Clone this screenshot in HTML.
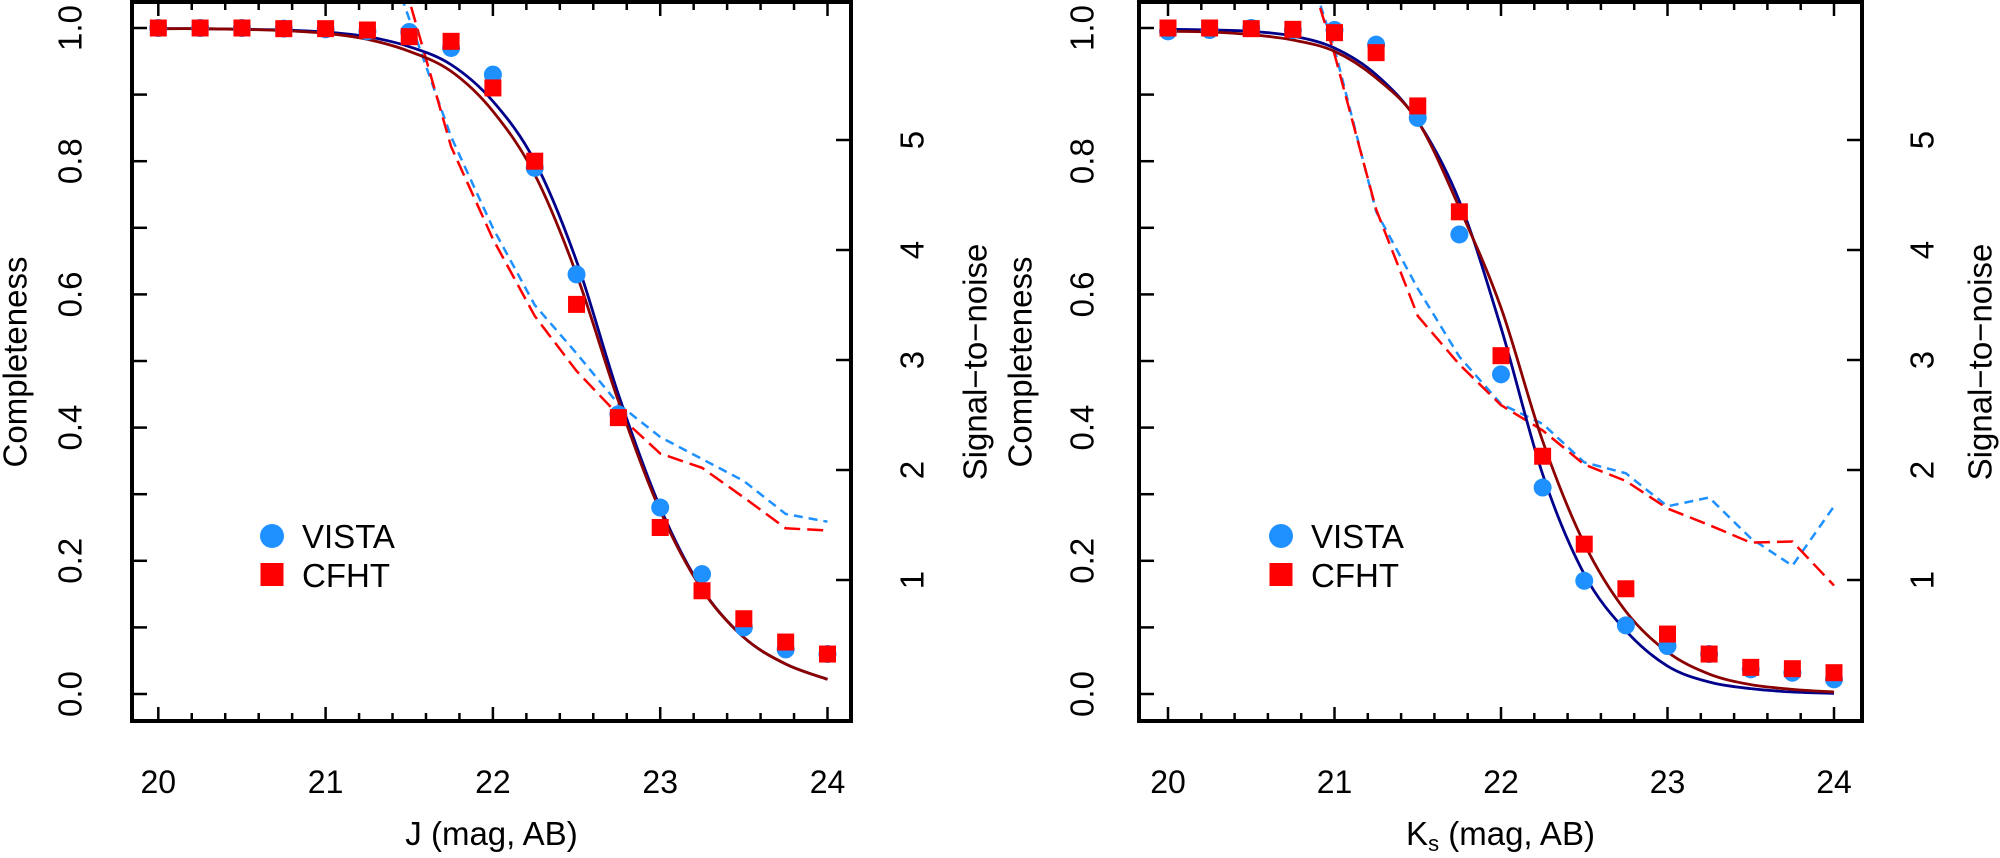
<!DOCTYPE html>
<html><head><meta charset="utf-8"><style>
body{margin:0;background:#fff}
svg text{font-family:"Liberation Sans",sans-serif;fill:#000}
</style></head><body>
<svg id="chart" width="2000" height="853" xmlns="http://www.w3.org/2000/svg"></svg>
<script>
const mags = [20,20.25,20.5,20.75,21,21.25,21.5,21.75,22,22.25,22.5,22.75,23,23.25,23.5,23.75,24];
const xTicks = [20,21,22,23,24];
const yTicks = [0,0.2,0.4,0.6,0.8,1.0];
const yTickLabels = ["0.0","0.2","0.4","0.6","0.8","1.0"];
const snrTicks = [1,2,3,4,5];
// J band
const jVista = [1.0,1.0,1.0,0.999,0.998,0.995,0.994,0.97,0.93,0.79,0.63,0.42,0.28,0.18,0.10,0.067,0.06];
const jCfht = [1.0,1.0,1.0,0.999,0.999,0.997,0.987,0.98,0.91,0.80,0.585,0.415,0.25,0.155,0.113,0.078,0.06];
const jVistaFit = [0.999,0.999,0.998,0.997,0.994,0.987,0.972,0.945,0.89,0.80,0.65,0.45,0.28,0.158,0.085,0.045,0.022];
const jCfhtFit = [0.999,0.999,0.998,0.996,0.992,0.983,0.965,0.935,0.875,0.78,0.63,0.44,0.275,0.157,0.085,0.045,0.022];
const snrMags = [21.25,21.5,21.75,22,22.25,22.5,22.75,23,23.25,23.5,23.75,24];
const jVistaSnr = [7.2,6.1,5.03,4.2,3.5,3.06,2.6,2.3,2.1,1.9,1.6,1.53];
const jCfhtSnr = [7.4,6.27,4.94,4.1,3.4,2.9,2.5,2.15,2.02,1.75,1.47,1.45];
// Ks band
const kVista = [0.995,0.997,1.0,0.997,0.997,0.975,0.865,0.69,0.48,0.31,0.17,0.103,0.072,0.06,0.037,0.032,0.022];
const kCfht = [1.0,1.0,0.999,0.998,0.993,0.963,0.883,0.724,0.508,0.357,0.225,0.158,0.09,0.06,0.04,0.038,0.032];
const kVistaFit = [0.998,0.997,0.995,0.988,0.97,0.93,0.86,0.74,0.55,0.33,0.18,0.095,0.042,0.018,0.008,0.003,0.001];
const kCfhtFit = [0.995,0.994,0.99,0.982,0.965,0.925,0.86,0.73,0.58,0.38,0.226,0.124,0.063,0.03,0.014,0.007,0.003];
const kSnrMags = [20.75,21,21.25,21.5,21.75,22,22.25,22.5,22.75,23,23.25,23.5,23.75,24];
const kVistaSnr = [7.0,5.83,4.35,3.65,3.03,2.6,2.42,2.07,1.97,1.67,1.75,1.38,1.13,1.67];
const kCfhtSnr = [7.0,5.78,4.37,3.4,2.96,2.59,2.36,2.05,1.9,1.65,1.5,1.34,1.35,0.95];

const NS="http://www.w3.org/2000/svg";
const svg=document.getElementById('chart');
function mk(tag,attrs,parent){const e=document.createElementNS(NS,tag);for(const k in attrs)e.setAttribute(k,attrs[k]);(parent||svg).appendChild(e);return e;}
function smooth(pts){let d=`M${pts[0][0]},${pts[0][1]}`;for(let i=0;i<pts.length-1;i++){const p0=pts[i-1]||pts[i],p1=pts[i],p2=pts[i+1],p3=pts[i+2]||p2;d+=` C${p1[0]+(p2[0]-p0[0])/6},${p1[1]+(p2[1]-p0[1])/6} ${p2[0]-(p3[0]-p1[0])/6},${p2[1]-(p3[1]-p1[1])/6} ${p2[0]},${p2[1]}`;}return d;}

function panel(o){
  const L=o.left,R=o.right,T=2,B=721;
  const xs=m=>o.x20+(m-20)*o.pm;
  const ys=c=>694-c*666;
  const ss=s=>140+(5-s)*110;
  const g=mk('g',{});  
  const cid='clip'+o.name;
  const cp=mk('clipPath',{id:cid},g); mk('rect',{x:L,y:T,width:R-L,height:B-T},cp);
  for(let m=20;m<=24.001;m+=0.2){const maj=Math.abs(m-Math.round(m))<0.01;const len=maj?14:8;const x=xs(m);
    const t1=mk('line',{x1:x,x2:x,y1:B,y2:B-len,stroke:'#000','stroke-width':2.5},g);  
    const t2=mk('line',{x1:x,x2:x,y1:T,y2:T+len,stroke:'#000','stroke-width':2.5},g);  }
  for(let c=0;c<=1.001;c+=0.1){const y=ys(c);const t=mk('line',{x1:L,x2:L+15,y1:y,y2:y,stroke:'#000','stroke-width':2.5},g);  }
  snrTicks.forEach(s=>{const y=ss(s);const t=mk('line',{x1:R,x2:R-15,y1:y,y2:y,stroke:'#000','stroke-width':2.5},g);  
    const tx=mk('text',{x:o.snrLabX,y:y,'font-size':33,'text-anchor':'middle','dominant-baseline':'central',transform:`rotate(-90 ${o.snrLabX} ${y})`},g); tx.textContent=s;  });
  xTicks.forEach(m=>{const t=mk('text',{x:xs(m),y:793,'font-size':32,'text-anchor':'middle'},g); t.textContent=m;  });
  yTicks.forEach((c,i)=>{const y=ys(c);const t=mk('text',{x:o.yLabX,y:y,'font-size':33,'text-anchor':'middle','dominant-baseline':'central',transform:`rotate(-90 ${o.yLabX} ${y})`},g); t.textContent=yTickLabels[i];  });
  const yt=mk('text',{x:o.yTitleX,y:362,'font-size':33,'text-anchor':'middle','dominant-baseline':'central',transform:`rotate(-90 ${o.yTitleX} 362)`},g); yt.textContent='Completeness';  
  const st=mk('text',{x:o.snrTitleX,y:362,'font-size':33,'text-anchor':'middle','dominant-baseline':'central',transform:`rotate(-90 ${o.snrTitleX} 362)`},g); st.textContent='Signal\u2212to\u2212noise';  
  const xt=mk('text',{x:(L+R)/2,y:845,'font-size':33,'text-anchor':'middle'},g); xt.innerHTML=o.xTitle;  
  const pl=mk('g',{'clip-path':`url(#${cid})`},g);
  const db=mk('polyline',{points:o.snrM.map((m,i)=>xs(m)+','+ss(o.vSnr[i])).join(' '),fill:'none',stroke:'#1E90FF','stroke-width':2.5,'stroke-dasharray':'9 6'},pl);  
  const dr=mk('polyline',{points:o.snrM.map((m,i)=>xs(m)+','+ss(o.cSnr[i])).join(' '),fill:'none',stroke:'#FF0000','stroke-width':2.5,'stroke-dasharray':'16 7'},pl);  
  const fb=mk('path',{d:smooth(mags.map((m,i)=>[xs(m),ys(o.vFit[i])])),fill:'none',stroke:'#00008B','stroke-width':2.8},pl);  
  const fr=mk('path',{d:smooth(mags.map((m,i)=>[xs(m),ys(o.cFit[i])])),fill:'none',stroke:'#8B0000','stroke-width':2.8},pl);  
  mags.forEach((m,i)=>{const c=mk('circle',{cx:xs(m),cy:ys(o.v[i]),r:9,fill:'#1E90FF'},pl);  });
  mags.forEach((m,i)=>{const r=mk('rect',{x:xs(m)-8.5,y:ys(o.c[i])-8.5,width:17,height:17,fill:'#FF0000'},pl);  });
  const fr2=mk('rect',{x:L,y:T,width:R-L,height:B-T,fill:'none',stroke:'#000','stroke-width':4},g);  
  const lg=mk('g',{},g);  
  const lc=mk('circle',{cx:o.legX,cy:536,r:12,fill:'#1E90FF'},lg);  
  const lr=mk('rect',{x:o.legX-11.5,y:563,width:23,height:23,fill:'#FF0000'},lg);  
  const l1=mk('text',{x:o.legX+30,y:548,'font-size':33},lg); l1.textContent='VISTA';  
  const l2=mk('text',{x:o.legX+30,y:587,'font-size':33},lg); l2.textContent='CFHT';  
}
panel({name:'j-panel',left:132,right:851,x20:158.3,pm:167.3,yLabX:70,yTitleX:15,snrLabX:912,snrTitleX:975,legX:272,xTitle:'J (mag, AB)',
  v:jVista,c:jCfht,vFit:jVistaFit,cFit:jCfhtFit,snrM:snrMags,vSnr:jVistaSnr,cSnr:jCfhtSnr});
panel({name:'ks-panel',left:1139,right:1862,x20:1168,pm:166.5,yLabX:1082,yTitleX:1020,snrLabX:1922,snrTitleX:1980,legX:1281,xTitle:'K<tspan font-size="22" dy="6">s</tspan><tspan dy="-6"> (mag, AB)</tspan>',
  v:kVista,c:kCfht,vFit:kVistaFit,cFit:kCfhtFit,snrM:kSnrMags,vSnr:kVistaSnr,cSnr:kCfhtSnr});
</script>
</body></html>
